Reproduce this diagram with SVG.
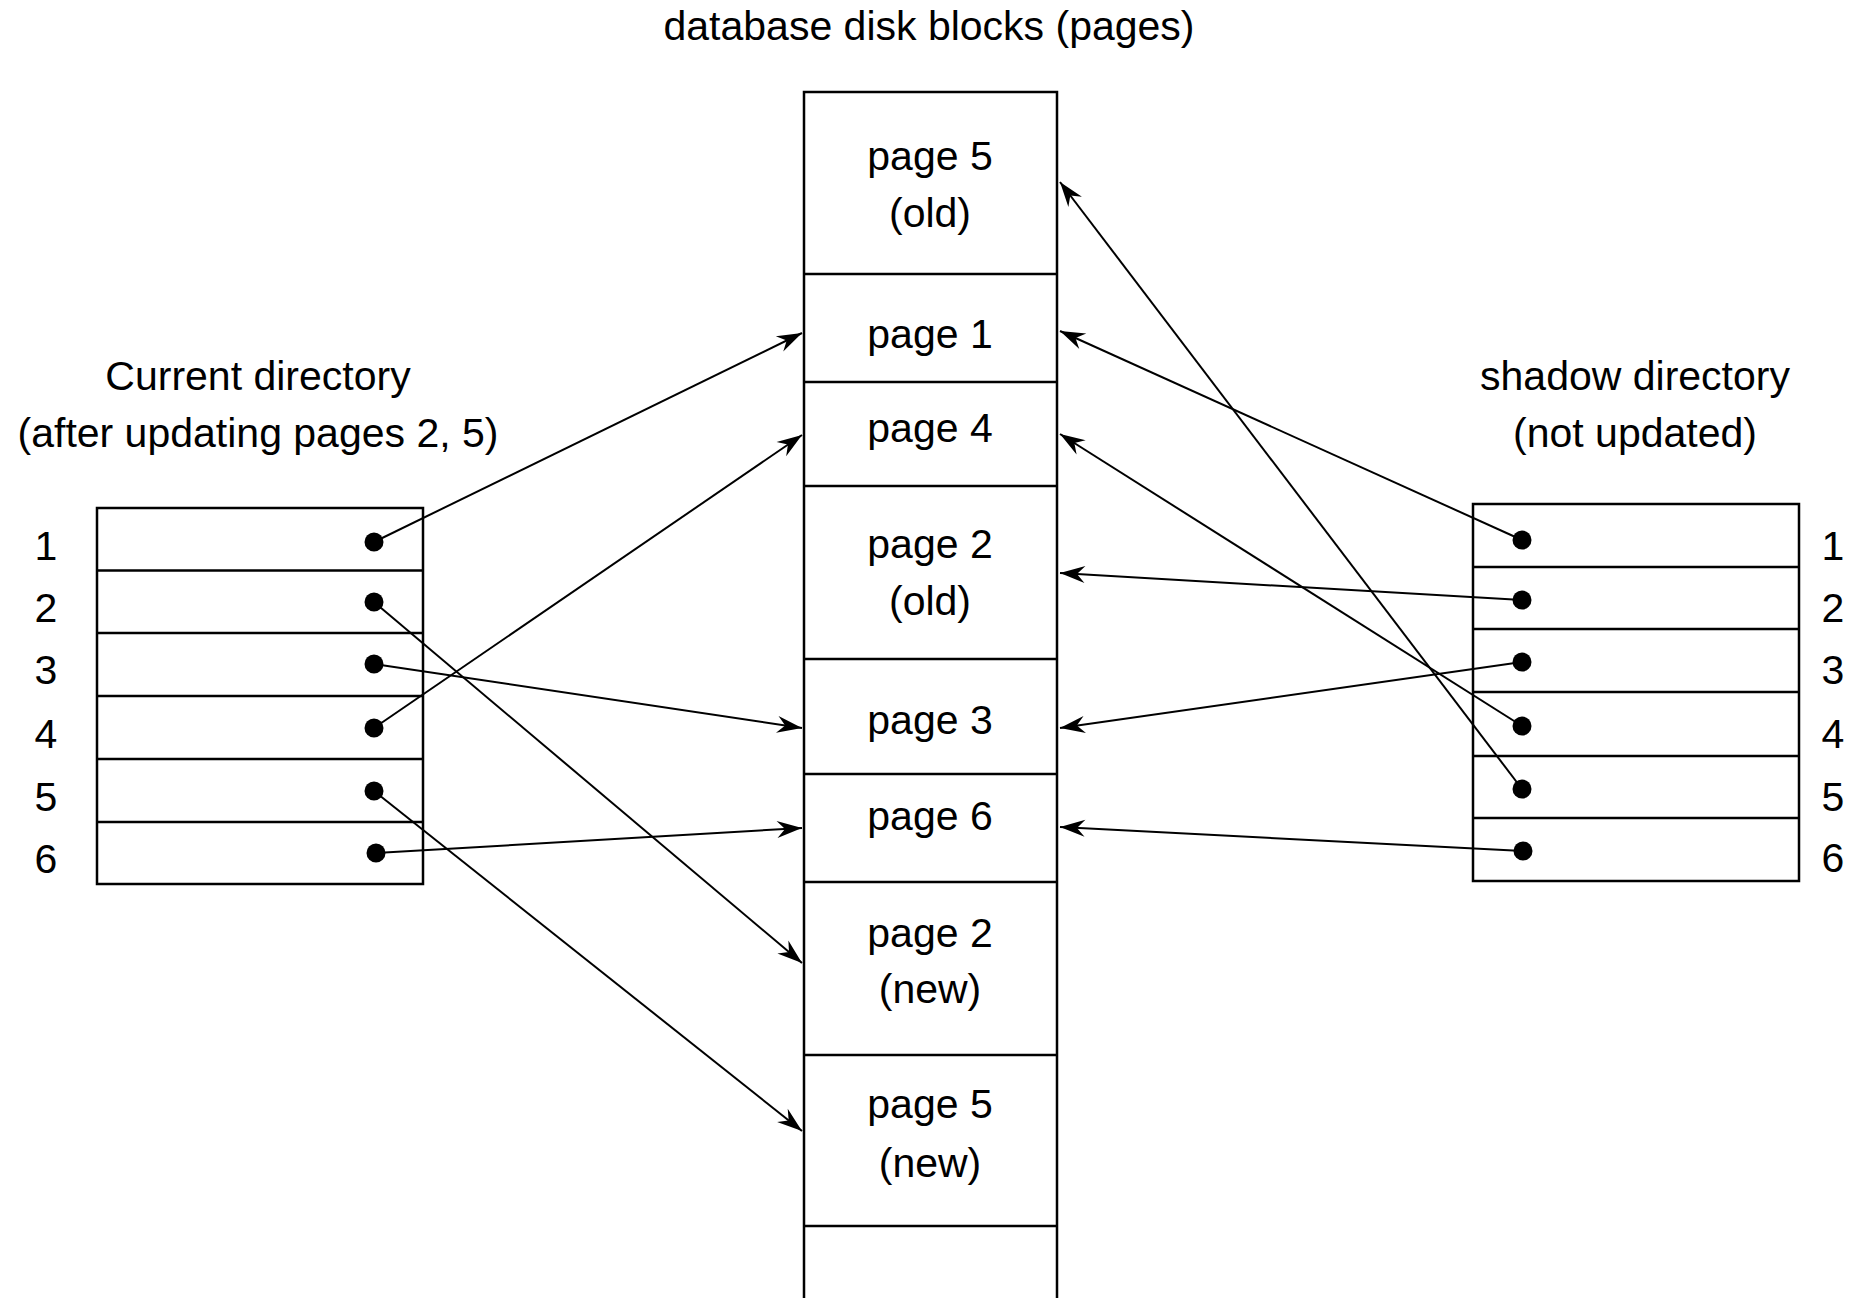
<svg xmlns="http://www.w3.org/2000/svg" width="1864" height="1298" viewBox="0 0 1864 1298">
<style>
text { font-family: "Liberation Sans", Arial, sans-serif; font-size: 41px; fill: #000; text-anchor: middle; }
.box { fill: none; stroke: #000; stroke-width: 2.5; }
.conn line { stroke: #000; stroke-width: 2; }
.dot { fill: #000; }
</style>
<defs>
<marker id="ah" markerUnits="userSpaceOnUse" markerWidth="30" markerHeight="20" viewBox="-26 -10 28 20" refX="0" refY="0" orient="auto">
<path d="M0,0 L-25,-8.5 L-17,0 L-25,8.5 Z" fill="#000"/>
</marker>
</defs>
<rect width="1864" height="1298" fill="#fff"/>

<text x="929" y="40">database disk blocks (pages)</text>

<g id="current-directory">
<text x="258" y="390">Current directory</text>
<text x="258" y="447">(after updating pages 2, 5)</text>
<rect class="box" x="97" y="508" width="326" height="376"/>
<line class="box" x1="97" y1="570.5" x2="423" y2="570.5"/>
<line class="box" x1="97" y1="633" x2="423" y2="633"/>
<line class="box" x1="97" y1="696" x2="423" y2="696"/>
<line class="box" x1="97" y1="759" x2="423" y2="759"/>
<line class="box" x1="97" y1="822" x2="423" y2="822"/>
<text x="46" y="560">1</text>
<text x="46" y="622">2</text>
<text x="46" y="684">3</text>
<text x="46" y="748">4</text>
<text x="46" y="811">5</text>
<text x="46" y="873">6</text>
<circle class="dot" cx="374" cy="542" r="9.5"/>
<circle class="dot" cx="374" cy="602" r="9.5"/>
<circle class="dot" cx="374" cy="664" r="9.5"/>
<circle class="dot" cx="374" cy="728" r="9.5"/>
<circle class="dot" cx="374" cy="791" r="9.5"/>
<circle class="dot" cx="376" cy="853" r="9.5"/>
</g>

<g id="shadow-directory">
<text x="1635" y="390">shadow directory</text>
<text x="1635" y="447">(not updated)</text>
<rect class="box" x="1473" y="504" width="326" height="377"/>
<line class="box" x1="1473" y1="567" x2="1799" y2="567"/>
<line class="box" x1="1473" y1="629" x2="1799" y2="629"/>
<line class="box" x1="1473" y1="692" x2="1799" y2="692"/>
<line class="box" x1="1473" y1="756" x2="1799" y2="756"/>
<line class="box" x1="1473" y1="818" x2="1799" y2="818"/>
<text x="1833" y="560">1</text>
<text x="1833" y="622">2</text>
<text x="1833" y="684">3</text>
<text x="1833" y="748">4</text>
<text x="1833" y="811">5</text>
<text x="1833" y="872">6</text>
<circle class="dot" cx="1522" cy="540" r="9.5"/>
<circle class="dot" cx="1522" cy="600" r="9.5"/>
<circle class="dot" cx="1522" cy="662" r="9.5"/>
<circle class="dot" cx="1522" cy="726" r="9.5"/>
<circle class="dot" cx="1522" cy="789" r="9.5"/>
<circle class="dot" cx="1523" cy="851" r="9.5"/>
</g>

<g id="disk-blocks">
<path class="box" d="M804,1300 V92 H1057 V1300"/>
<line class="box" x1="804" y1="274" x2="1057" y2="274"/>
<line class="box" x1="804" y1="382" x2="1057" y2="382"/>
<line class="box" x1="804" y1="486" x2="1057" y2="486"/>
<line class="box" x1="804" y1="659" x2="1057" y2="659"/>
<line class="box" x1="804" y1="774" x2="1057" y2="774"/>
<line class="box" x1="804" y1="882" x2="1057" y2="882"/>
<line class="box" x1="804" y1="1055" x2="1057" y2="1055"/>
<line class="box" x1="804" y1="1226" x2="1057" y2="1226"/>
<text x="930" y="170">page 5</text>
<text x="930" y="227">(old)</text>
<text x="930" y="348">page 1</text>
<text x="930" y="442">page 4</text>
<text x="930" y="558">page 2</text>
<text x="930" y="615">(old)</text>
<text x="930" y="734">page 3</text>
<text x="930" y="830">page 6</text>
<text x="930" y="947">page 2</text>
<text x="930" y="1003">(new)</text>
<text x="930" y="1118">page 5</text>
<text x="930" y="1177">(new)</text>
</g>

<g id="connectors" class="conn">
<line x1="374" y1="542" x2="802" y2="333" marker-end="url(#ah)"/>
<line x1="374" y1="602" x2="802" y2="963" marker-end="url(#ah)"/>
<line x1="374" y1="664" x2="802" y2="728" marker-end="url(#ah)"/>
<line x1="374" y1="728" x2="802" y2="435" marker-end="url(#ah)"/>
<line x1="374" y1="791" x2="802" y2="1131" marker-end="url(#ah)"/>
<line x1="376" y1="853" x2="802" y2="828" marker-end="url(#ah)"/>
<line x1="1522" y1="540" x2="1060" y2="331" marker-end="url(#ah)"/>
<line x1="1522" y1="600" x2="1060" y2="573" marker-end="url(#ah)"/>
<line x1="1522" y1="662" x2="1060" y2="728" marker-end="url(#ah)"/>
<line x1="1522" y1="726" x2="1060" y2="434" marker-end="url(#ah)"/>
<line x1="1522" y1="789" x2="1060" y2="182" marker-end="url(#ah)"/>
<line x1="1523" y1="851" x2="1060" y2="827" marker-end="url(#ah)"/>
</g>
</svg>
